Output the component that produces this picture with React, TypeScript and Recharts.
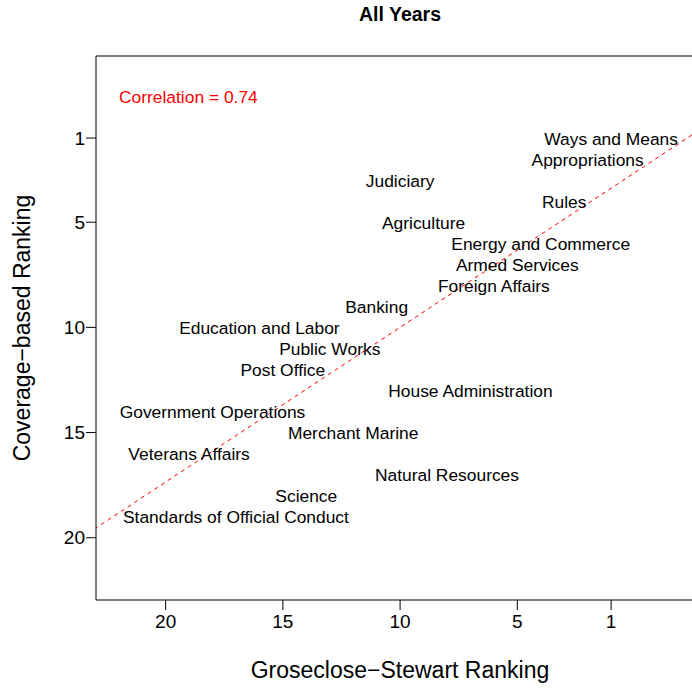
import React from "react";
import {
  ScatterChart,
  Scatter,
  XAxis,
  YAxis,
  ReferenceLine,
  Customized,
} from "recharts";

const committees = [
  "Ways and Means",
  "Appropriations",
  "Judiciary",
  "Rules",
  "Agriculture",
  "Energy and Commerce",
  "Armed Services",
  "Foreign Affairs",
  "Banking",
  "Education and Labor",
  "Public Works",
  "Post Office",
  "House Administration",
  "Government Operations",
  "Merchant Marine",
  "Veterans Affairs",
  "Natural Resources",
  "Science",
  "Standards of Official Conduct",
];
const gsRank = [1, 2, 10, 3, 9, 4, 5, 6, 11, 16, 13, 15, 7, 18, 12, 19, 8, 14, 17];
const coverageRank = [1, 2, 3, 4, 5, 6, 7, 8, 9, 10, 11, 12, 13, 14, 15, 16, 17, 18, 19];

const xTicks = [20, 15, 10, 5, 1];
const yTicks = [1, 5, 10, 15, 20];

const X_MIN = -2.45;
const X_MAX = 22.97;
const Y_MIN = -2.9;
const Y_MAX = 22.96;

const data = committees.map((name, i) => ({
  name,
  gs: gsRank[i],
  cov: coverageRank[i],
}));

// least squares fit of coverage on GS ranking
const n = gsRank.length;
const mx = gsRank.reduce((a, b) => a + b, 0) / n;
const my = coverageRank.reduce((a, b) => a + b, 0) / n;
let sxy = 0;
let sxx = 0;
let syy = 0;
for (let i = 0; i < n; i++) {
  sxy += (gsRank[i] - mx) * (coverageRank[i] - my);
  sxx += (gsRank[i] - mx) ** 2;
  syy += (coverageRank[i] - my) ** 2;
}
const slope = sxy / sxx;
const intercept = my - slope * mx;
const corr = sxy / Math.sqrt(sxx * syy);

const FONT = "'Liberation Sans', Arial, Helvetica, sans-serif";

const LabelShape = (props: any) => {
  const { cx, cy, payload } = props;
  return (
    <text
      x={cx}
      y={cy}
      dy="0.38em"
      textAnchor="middle"
      fontSize={17.4}
      fontFamily={FONT}
      fill="#000"
    >
      {payload.name}
    </text>
  );
};

const Decorations = () => (
  <g fontFamily={FONT}>
    <text x={400} y={20.7} textAnchor="middle" fontSize={19.5} fontWeight="bold" fill="#000">
      All Years
    </text>
    <text x={119} y={103.3} fontSize={17.4} fill="#FF0000">
      {`Correlation = ${corr.toFixed(2)}`}
    </text>
    <text x={400} y={678.3} textAnchor="middle" fontSize={23} fill="#000">
      Groseclose−Stewart Ranking
    </text>
    <text
      x={29.5}
      y={328}
      textAnchor="middle"
      fontSize={23}
      fill="#000"
      transform="rotate(-90, 29.5, 328)"
    >
      Coverage−based Ranking
    </text>
  </g>
);

export default function App() {
  return (
    <div style={{ position: "absolute", left: 0, top: 0, width: 692, height: 690, overflow: "hidden", background: "#fff" }}>
      <ScatterChart
        width={692}
        height={690}
        margin={{ top: 56, right: 0, bottom: 60, left: 36 }}
      >
        <XAxis
          type="number"
          dataKey="gs"
          domain={[X_MIN, X_MAX]}
          reversed
          allowDataOverflow
          ticks={xTicks}
          interval={0}
          height={30}
          tickSize={10}
          tickMargin={5}
          axisLine={{ stroke: "#000", strokeWidth: 1 }}
          tickLine={{ stroke: "#000", strokeWidth: 1 }}
          tick={{ fill: "#000", fontSize: 19, fontFamily: FONT }}
        />
        <YAxis
          type="number"
          dataKey="cov"
          domain={[Y_MIN, Y_MAX]}
          reversed
          allowDataOverflow
          ticks={yTicks}
          interval={0}
          width={60}
          tickSize={10}
          tickMargin={1}
          axisLine={{ stroke: "#000", strokeWidth: 1 }}
          tickLine={{ stroke: "#000", strokeWidth: 1 }}
          tick={{ fill: "#000", fontSize: 19, fontFamily: FONT }}
        />
        <ReferenceLine y={Y_MIN} stroke="#000" strokeWidth={1} ifOverflow="visible" />
        <ReferenceLine
          segment={[
            { x: X_MIN, y: intercept + slope * X_MIN },
            { x: X_MAX, y: intercept + slope * X_MAX },
          ]}
          stroke="#FF0000"
          strokeWidth={1}
          strokeDasharray="4 4"
          ifOverflow="visible"
        />
        <Scatter data={data} shape={LabelShape} isAnimationActive={false} />
        <Customized component={Decorations} />
      </ScatterChart>
    </div>
  );
}
